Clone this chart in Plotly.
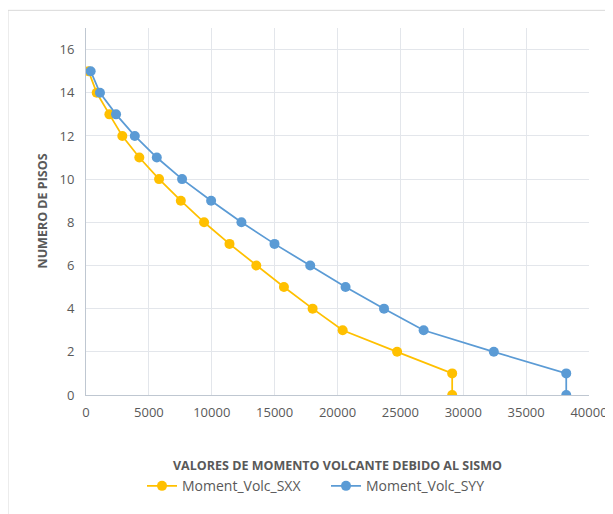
import plotly.graph_objects as go

# numero de pisos
pisos = [15, 14, 13, 12, 11, 10, 9, 8, 7, 6, 5, 4, 3, 2, 1, 0]

# momento volcante
moment_sxx = [200, 850, 1860, 2890, 4240, 5810, 7540, 9390, 11410, 13540,
              15740, 18020, 20410, 24740, 29120, 29120]
moment_syy = [370, 1110, 2390, 3880, 5630, 7640, 9950, 12360, 14990, 17830,
              20640, 23700, 26850, 32430, 38190, 38190]

x_ticks = [0, 5000, 10000, 15000, 20000, 25000, 30000, 35000, 40000]
y_ticks = [0, 2, 4, 6, 8, 10, 12, 14, 16]

gris = '#595959'
fuente = 'Open Sans'

fig = go.Figure()
fig.add_trace(go.Scatter(x=moment_sxx, y=pisos, mode='lines+markers', name='Moment_Volc_SXX',
                         line=dict(color='#FFC000', width=1.75),
                         marker=dict(color='#FFC000', size=10)))
fig.add_trace(go.Scatter(x=moment_syy, y=pisos, mode='lines+markers', name='Moment_Volc_SYY',
                         line=dict(color='#5B9BD5', width=1.75),
                         marker=dict(color='#5B9BD5', size=10)))

# la pagina tiene 8px de margen en el body
fig.update_layout(
    width=605, height=506,
    margin=dict(l=78, r=24, t=20, b=112),
    paper_bgcolor='white', plot_bgcolor='white',
    font=dict(family=fuente, size=12, color=gris),
    showlegend=True,
    legend=dict(orientation='h', x=56 / 503, xanchor='left', y=-93 / 374, yanchor='middle',
                font=dict(size=14, color=gris), tracegroupgap=0, entrywidth=139,
                itemwidth=30),
    xaxis=dict(range=[0, 40000], tickvals=x_ticks, tickformat='d', automargin=False,
               showgrid=True, gridcolor='#E3E6EB', gridwidth=1,
               showline=True, linecolor='#BFC7D1', linewidth=1, zeroline=False,
               ticks='', ticklabelstandoff=5, tickfont=dict(size=13, color=gris)),
    yaxis=dict(range=[0, 17], tickvals=y_ticks, automargin=False,
               showgrid=True, gridcolor='#E3E6EB', gridwidth=1,
               showline=True, linecolor='#BFC7D1', linewidth=1, zeroline=False,
               ticks='', ticklabelstandoff=8, tickfont=dict(size=13, color=gris)),
)

# titulos de los ejes
fig.add_annotation(text='<b>VALORES DE MOMENTO VOLCANTE DEBIDO AL SISMO</b>',
                   xref='paper', yref='paper', x=0.5, y=-72 / 374, yanchor='middle',
                   showarrow=False, font=dict(size=12.5, color=gris))
fig.add_annotation(text='<b>NUMERO DE PISOS</b>', textangle=-90,
                   xref='paper', yref='paper', x=-44 / 503, y=0.5, xanchor='center',
                   showarrow=False, font=dict(size=12.5, color=gris))

# borde del area del grafico
fig.add_shape(type='rect', xref='paper', yref='paper',
              x0=-78 / 503, x1=1.1, y0=-0.4, y1=1 + 18 / 374,
              line=dict(color='#D9D9D9', width=1), layer='below')

fig.write_html("out.html")
